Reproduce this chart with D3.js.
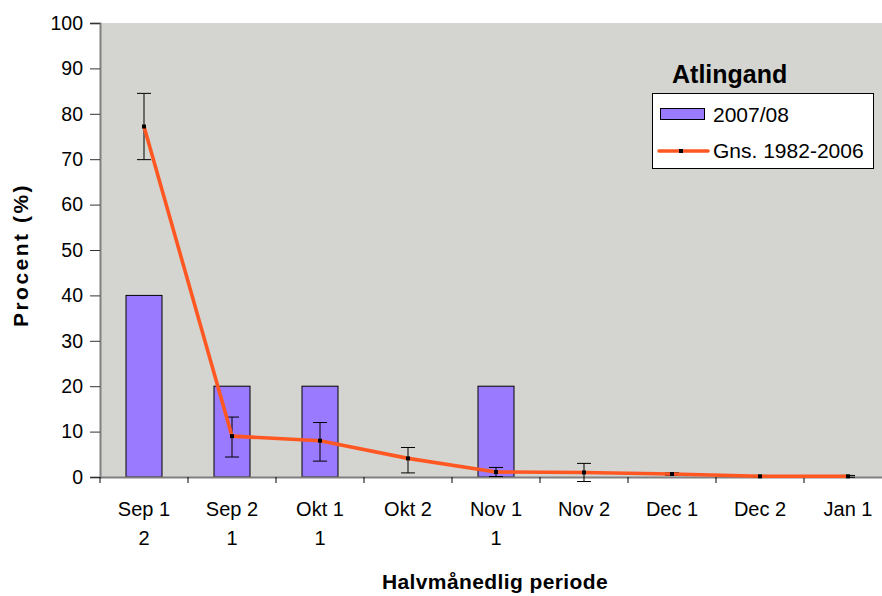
<!DOCTYPE html>
<html><head><meta charset="utf-8">
<script src="https://cdn.jsdelivr.net/npm/d3@7"></script>
<style>body{margin:0;background:#fff}svg{display:block;font-family:"Liberation Sans",Arial,sans-serif}</style>
</head><body>
<svg id="c" width="882" height="596"></svg>
<script>
const categories = ["Sep 1","Sep 2","Okt 1","Okt 2","Nov 1","Nov 2","Dec 1","Dec 2","Jan 1"];
const countLabels = ["2","1","1","","1","","","",""];
const bars2007 = [40,20,20,0,20,0,0,0,0];
const avg = [77.2,9,8,4.1,1.1,1.0,0.65,0.15,0.15];
const errPlus = [7.3,4.2,4.0,2.4,1.0,2.0,0.3,0.2,0.2];
const errMinus = [7.3,4.6,4.5,3.2,1.0,2.0,0.3,0.2,0.2];
const yTicks = [0,10,20,30,40,50,60,70,80,90,100];

(function(){
const svg = d3.select("#c");
const pL=100, pR=892, pT=23, pB=477;
const x = d3.scaleBand().domain(categories).range([pL,pR]);
const y = d3.scaleLinear().domain([0,100]).range([pB,pT]);

svg.append("rect").attr("x",pL).attr("y",pT).attr("width",pR-pL).attr("height",pB-pT).attr("fill","#D4D5D0");

// bars
svg.selectAll(".bar").data(categories.map((c,i)=>({c,v:bars2007[i]})).filter(d=>d.v>0))
 .enter().append("rect")
 .attr("x",d=>x(d.c)+x.bandwidth()/2-18).attr("width",36)
 .attr("y",d=>y(d.v)).attr("height",d=>y(0)-y(d.v))
 .attr("fill","#9A7BFF").attr("stroke","#000").attr("stroke-width",1);

// axes
const yAxis = d3.axisLeft(y).tickValues(yTicks).tickSize(10).tickPadding(7);
const gy = svg.append("g").attr("transform",`translate(${pL},0)`).call(yAxis);
gy.select(".domain").attr("stroke","#808080").attr("stroke-width",2);
gy.selectAll(".tick line").attr("stroke","#333");
gy.selectAll("text").attr("font-size",19.5).attr("fill","#000").attr("font-family","Liberation Sans, Arial, sans-serif");

const xAxis = d3.axisBottom(x).tickSize(0).tickFormat("");
const gx = svg.append("g").attr("transform",`translate(0,${pB})`).call(xAxis);
gx.select(".domain").attr("stroke","#808080").attr("stroke-width",2);
svg.append("g").selectAll("line").data(categories).enter().append("line")
 .attr("x1",d=>x(d)).attr("x2",d=>x(d)).attr("y1",pB).attr("y2",pB+6).attr("stroke","#000");

// x labels
const lab = svg.append("g").attr("font-size",20).attr("text-anchor","middle");
categories.forEach((c,i)=>{
  const cx = x(c)+x.bandwidth()/2;
  lab.append("text").attr("x",cx).attr("y",516).text(c);
  if(countLabels[i]) lab.append("text").attr("x",cx).attr("y",545).text(countLabels[i]);
});

// error bars
const eg = svg.append("g").attr("stroke","#000").attr("stroke-width",1);
categories.forEach((c,i)=>{
  const cx = x(c)+x.bandwidth()/2;
  const t = y(avg[i]+errPlus[i]), b = y(avg[i]-errMinus[i]);
  eg.append("line").attr("x1",cx).attr("x2",cx).attr("y1",t).attr("y2",b);
  eg.append("line").attr("x1",cx-7).attr("x2",cx+7).attr("y1",t).attr("y2",t);
  eg.append("line").attr("x1",cx-7).attr("x2",cx+7).attr("y1",b).attr("y2",b);
});

// line
const line = d3.line().x((d,i)=>x(categories[i])+x.bandwidth()/2).y(d=>y(d));
svg.append("path").datum(avg).attr("d",line).attr("fill","none").attr("stroke","#FF5722").attr("stroke-width",3.6).attr("stroke-linejoin","round");
svg.selectAll(".mk").data(avg).enter().append("rect")
 .attr("x",(d,i)=>x(categories[i])+x.bandwidth()/2-2).attr("y",d=>y(d)-2).attr("width",4).attr("height",4).attr("fill","#000");

// titles
svg.append("text").attr("x",495).attr("y",589).attr("text-anchor","middle").attr("font-size",21).attr("font-weight","bold").attr("letter-spacing",0.4).text("Halvmånedlig periode");
svg.append("text").attr("transform","translate(28,255) rotate(-90)").attr("text-anchor","middle").attr("font-size",21).attr("font-weight","bold").attr("letter-spacing",2.5).text("Procent (%)");

// legend
svg.append("text").attr("x",672).attr("y",83).attr("font-size",25).attr("font-weight","bold").text("Atlingand");
svg.append("rect").attr("x",652.5).attr("y",93.5).attr("width",221).attr("height",75).attr("fill","#fff").attr("stroke","#000");
svg.append("rect").attr("x",660.5).attr("y",108.5).attr("width",44).attr("height",11).attr("fill","#9A7BFF").attr("stroke","#000");
svg.append("text").attr("x",713).attr("y",122).attr("font-size",21).text("2007/08");
svg.append("line").attr("x1",659).attr("x2",708).attr("y1",151).attr("y2",151).attr("stroke","#FF5722").attr("stroke-width",3.6).attr("stroke-linecap","round");
svg.append("rect").attr("x",679).attr("y",149).attr("width",4).attr("height",4).attr("fill","#000");
svg.append("text").attr("x",713).attr("y",158).attr("font-size",21).text("Gns. 1982-2006");
})();
</script>
</body></html>
